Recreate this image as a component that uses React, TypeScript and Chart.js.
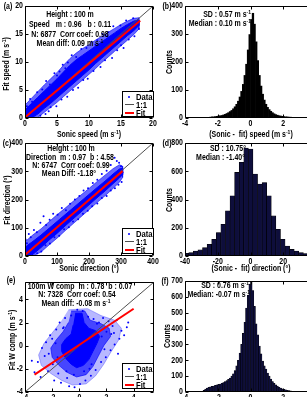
import React, { useEffect, useRef } from "react";
import { Chart, registerables } from "chart.js";

Chart.register(...registerables);

const FONT = "'Liberation Sans',Arial,sans-serif";
const SQUEEZE = 0.82; // horizontal compression of the lettering

// ---------- (a) horizontal wind speed, sonic vs fit ----------
const speedBandX = [0, 1, 2, 3, 4, 5, 6, 7, 8, 9, 10, 11, 12, 13, 14, 15, 16, 17, 17.8];
const speedCoreHi = [1.4, 2.6, 3.7, 4.8, 5.9, 7.0, 8.2, 9.4, 10.4, 11.2, 12.0, 12.8, 13.6, 14.4, 15.2, 16.0, 16.7, 17.3, 17.5];
const speedCoreLo = [0.0, 0.0, 0.7, 1.7, 2.6, 3.6, 4.6, 5.6, 6.6, 7.6, 8.6, 9.7, 10.7, 11.7, 12.7, 13.7, 14.7, 15.6, 16.5];
const speedHaloHi = [2.3, 3.5, 4.7, 5.9, 7.0, 8.1, 9.4, 10.6, 11.6, 12.4, 13.1, 13.9, 14.6, 15.3, 16.0, 16.7, 17.3, 17.8, 17.9];
const speedHaloLo = [0.0, 0.0, 0.1, 1.0, 1.9, 2.8, 3.8, 4.8, 5.8, 6.8, 7.8, 8.8, 9.9, 10.9, 11.9, 12.9, 13.9, 14.9, 15.9];
const speedOutX = [0.3, 0.8, 1.1, 1.9, 2.7, 3.3, 3.9, 4.6, 5.4, 5.9, 6.7, 7.3, 8.0, 8.8, 9.6, 10.4, 11.3, 12.1, 13.0, 13.8, 14.9, 15.8, 16.9, 17.5, 17.8, 17.1, 16.2, 15.4, 14.4, 13.6, 12.5, 11.8, 10.7, 9.8, 9.1, 8.3, 7.5, 6.6, 5.7, 4.9, 4.0, 3.2, 2.4, 1.6, 5.0, 6.3, 11.0, 12.9, 3.7, 15.0];
const speedOutY = [2.1, 3.4, 2.9, 4.6, 5.1, 6.6, 6.0, 8.0, 8.3, 9.5, 9.9, 11.2, 10.9, 12.3, 12.5, 13.6, 13.9, 15.0, 15.3, 16.4, 16.5, 17.4, 17.8, 17.1, 15.9, 14.6, 14.0, 12.5, 12.1, 10.7, 10.3, 9.1, 8.4, 7.0, 6.8, 5.4, 5.0, 3.8, 3.3, 2.1, 1.9, 0.7, 0.4, 0.05, 7.6, 8.9, 13.1, 14.6, 1.2, 13.0];
const speedFit = { m: 0.96, b: 0.11, from: 0, to: 18 };

// ---------- (b) speed difference histogram ----------
const speedDiffStart = -2.55;
const speedDiffWidth = 0.1;
const speedDiffCounts = [2, 3, 4, 4, 5, 6, 7, 8, 9, 11, 13, 16, 19, 23, 27, 33, 40, 49, 60, 75, 95, 120, 152, 192, 243, 298, 352, 374, 335, 272, 205, 152, 114, 85, 64, 49, 38, 30, 24, 19, 15, 12, 10, 8, 7, 6, 5, 4, 4, 3, 3, 2, 2, 1];

// ---------- (c) wind direction, sonic vs fit ----------
const dirBandX = [0, 10, 25, 50, 75, 100, 125, 150, 175, 200, 225, 250, 275, 295, 305];
const dirCoreHi = [30, 40, 52, 74, 98, 122, 146, 170, 194, 218, 242, 265, 290, 308, 311];
const dirCoreLo = [0, 0, 6, 30, 56, 80, 106, 131, 156, 181, 206, 230, 256, 276, 288];
const dirHaloHi = [50, 60, 75, 96, 121, 146, 169, 193, 216, 239, 263, 286, 309, 323, 318];
const dirHaloLo = [0, 0, 0, 14, 39, 63, 89, 114, 139, 164, 189, 213, 239, 261, 278];
const dirOutX = [2, 6, 12, 18, 28, 37, 48, 58, 66, 77, 88, 102, 115, 128, 141, 156, 170, 183, 197, 212, 226, 240, 255, 268, 280, 287, 294, 300, 305, 302, 292, 281, 268, 255, 240, 226, 210, 196, 181, 166, 150, 137, 122, 107, 92, 78, 64, 51, 38, 25, 45];
const dirOutY = [58, 45, 78, 66, 92, 84, 118, 141, 110, 128, 150, 146, 170, 162, 185, 200, 212, 232, 240, 258, 270, 290, 302, 322, 348, 336, 330, 318, 296, 262, 252, 240, 232, 212, 205, 186, 176, 160, 150, 130, 122, 102, 95, 72, 66, 44, 38, 16, 10, 0, 0];
const dirFit = { m: 0.97, b: 4.58, from: 0, to: 305 };

// ---------- (d) direction difference histogram ----------
const dirDiffStart = -39.1;
const dirDiffWidth = 2.8;
const dirDiffCounts = [19, 24, 35, 43, 59, 83, 118, 166, 225, 320, 426, 592, 663, 764, 757, 580, 509, 520, 426, 284, 189, 118, 71, 47, 35, 24, 18];

// ---------- (e) vertical wind component, sonic vs fit ----------
const wCoreX = [-0.3, 0.2, 0.35, 0.7, 1.2, 1.5, 1.3, 1.0, 0.7, 0.3, -0.2, -0.6, -1.0, -1.3, -1.3, -1.0, -0.6, -0.45];
const wCoreY = [2.8, 2.8, 2.0, 1.5, 1.3, 0.8, 0.2, -0.5, -1.2, -1.7, -1.9, -1.6, -1.1, -0.5, 0.1, 0.6, 1.0, 1.8];
const wMidX = [-0.6, 0.4, 0.8, 1.6, 2.2, 2.3, 1.8, 1.4, 1.0, 0.5, -0.2, -0.9, -1.5, -2.0, -2.1, -1.7, -1.2, -0.8];
const wMidY = [3.0, 3.0, 2.2, 1.9, 1.5, 0.8, 0.0, -0.9, -1.8, -2.5, -2.7, -2.3, -1.7, -1.0, -0.2, 0.5, 1.2, 2.0];
const wOuterX = [-0.8, 0.6, 1.6, 2.6, 3.1, 2.9, 2.3, 1.8, 1.2, 0.5, -0.5, -1.3, -2.1, -2.8, -3.0, -2.6, -2.0, -1.4];
const wOuterY = [3.1, 3.2, 2.6, 2.2, 1.5, 0.5, -0.6, -1.6, -2.6, -3.3, -3.4, -3.0, -2.4, -1.7, -0.8, 0.2, 1.1, 2.0];
const wOutX = [-3.3, -3.05, -2.85, -2.55, -2.45, -2.3, -2.15, -1.95, -1.85, -1.7, -1.55, -1.45, -1.35, -1.15, -1.05, -0.9, -0.75, -0.6, -0.35, -0.15, 0.05, 0.25, 0.45, 0.65, 0.85, 1.05, 1.2, 1.45, 1.6, 1.75, 1.95, 2.15, 2.3, 2.45, 2.6, 2.75, 2.95, 3.1, 3.3, 3.5, 3.6, -2.75, -2.25, -1.75, 1.85, 2.35, -0.95, 0.75, -3.5, 2.85, -2.0, -1.2, 0.9, 1.3, 2.0, -0.4, 0.35, 1.65, -1.6, 2.55];
const wOutY = [-2.3, -1.4, -2.7, -0.9, 0.3, -2.2, 0.9, -1.6, -3.0, 1.4, -2.4, 2.0, -3.2, 1.6, 2.4, -2.8, -3.5, 2.6, -3.6, 3.1, -3.3, 3.0, -3.0, 2.5, -2.6, 2.3, -2.1, 2.0, -1.4, 2.4, -1.0, 2.1, -0.4, 1.7, 0.1, 2.2, 0.6, 1.3, 0.9, 1.6, 2.0, -0.2, -0.7, 0.2, -0.3, 1.0, -2.2, -2.0, -1.3, -0.7, 0.6, 1.5, -1.6, 1.9, 1.2, -2.5, -2.2, 0.8, -1.0, 1.1];
const wFit = { m: 0.78, b: 0.07, from: -3.3, to: 4.0 };

// ---------- (f) vertical component difference histogram ----------
const wDiffStart = -2.95;
const wDiffWidth = 0.1;
const wDiffCounts = [5, 10, 18, 25, 30, 32, 35, 38, 42, 45, 48, 50, 55, 60, 65, 72, 80, 88, 100, 115, 135, 165, 200, 245, 300, 370, 440, 530, 610, 680, 700, 640, 540, 430, 360, 290, 240, 195, 165, 145, 120, 100, 82, 66, 54, 45, 37, 30, 25, 20, 17, 14, 11, 9, 7, 5, 4, 3, 2, 1];

// ---------- layout ----------
const AXW = 24;
const AXH = 16;
const PADT = 8;
const PADR = 12;
const BLUE = "#0000ff";
const NAVY = "#0e0e3c";

type Pt = { x: number; y: number };
type Rect = { l: number; t: number; r: number; b: number };

const zip = (xs: number[], ys: number[]): Pt[] => xs.map((x, i) => ({ x, y: ys[i] }));
const band = (xs: number[], hi: number[], lo: number[]): Pt[] => [...zip(xs, hi), ...zip(xs, lo).reverse()];
const fitLine = (f: { m: number; b: number; from: number; to: number }): Pt[] => [
  { x: f.from, y: f.m * f.from + f.b },
  { x: f.to, y: f.m * f.to + f.b },
];
const hist = (start: number, width: number, counts: number[]): Pt[] =>
  counts.map((c, i) => ({ x: start + i * width, y: c }));

// Box around the axes with inward tick marks and compressed tick labels
const framePlugin = {
  id: "frame",
  afterDatasetsDraw(chart: any) {
    const { ctx, chartArea: a } = chart;
    const xs = chart.scales.x;
    const ys = chart.scales.y;
    const L = Math.round(a.left) + 0.5;
    const R = Math.round(a.right) - 0.5;
    const T = Math.round(a.top) + 0.5;
    const B = Math.round(a.bottom) - 0.5;
    ctx.save();
    ctx.strokeStyle = "#000";
    ctx.lineWidth = 1;
    ctx.beginPath();
    ctx.rect(L, T, R - L, B - T);
    for (const t of xs.ticks) {
      const p = Math.round(xs.getPixelForValue(t.value)) + 0.5;
      ctx.moveTo(p, B);
      ctx.lineTo(p, B - 3);
      ctx.moveTo(p, T);
      ctx.lineTo(p, T + 3);
    }
    for (const t of ys.ticks) {
      const p = Math.round(ys.getPixelForValue(t.value)) + 0.5;
      ctx.moveTo(L, p);
      ctx.lineTo(L + 3, p);
      ctx.moveTo(R, p);
      ctx.lineTo(R - 3, p);
    }
    ctx.stroke();

    ctx.fillStyle = "#000";
    ctx.font = `bold 8.5px ${FONT}`;
    for (const t of xs.ticks) {
      const p = xs.getPixelForValue(t.value);
      ctx.save();
      ctx.translate(p, B + 2);
      ctx.scale(SQUEEZE, 1);
      ctx.textAlign = "center";
      ctx.textBaseline = "top";
      ctx.fillText(String(t.value), 0, 0);
      ctx.restore();
    }
    for (const t of ys.ticks) {
      const p = ys.getPixelForValue(t.value);
      ctx.save();
      ctx.translate(L - 2.5, p);
      ctx.scale(SQUEEZE, 1);
      ctx.textAlign = "right";
      ctx.textBaseline = "middle";
      ctx.fillText(String(t.value), 0, 0);
      ctx.restore();
    }
    ctx.restore();
  },
};

function axis(min: number, max: number, step: number, pos: "bottom" | "left") {
  return {
    type: "linear" as const,
    position: pos,
    min,
    max,
    offset: false,
    grid: { display: false, drawTicks: false },
    border: { display: false },
    ticks: { stepSize: step, includeBounds: false, autoSkip: false, display: false },
    afterFit: (s: any) => {
      if (pos === "bottom") s.height = AXH;
      else s.width = AXW;
    },
  };
}

const baseOptions = {
  animation: false as const,
  responsive: false,
  devicePixelRatio: 1,
  events: [] as any[],
  layout: { padding: { top: PADT, right: PADR, left: 0, bottom: 0 } },
  plugins: { legend: { display: false }, tooltip: { enabled: false } },
};

const area = (data: Pt[], color: string) => ({
  data,
  showLine: true,
  fill: "shape",
  backgroundColor: color,
  borderColor: color,
  borderWidth: 1,
  pointRadius: 0,
});

function scatterConfig(
  areas: { pts: Pt[]; color: string }[],
  out: Pt[],
  one: Pt[],
  fit: Pt[],
  xr: [number, number, number],
  yr: [number, number, number]
): any {
  return {
    type: "scatter",
    data: {
      datasets: [
        { data: fit, showLine: true, borderColor: "#ff0000", borderWidth: 2, pointRadius: 0 },
        { data: one, showLine: true, borderColor: "#505050", borderWidth: 1, pointRadius: 0 },
        { data: out, pointRadius: 1, backgroundColor: BLUE, borderWidth: 0 },
        ...areas.map((a) => area(a.pts, a.color)),
      ],
    },
    options: {
      ...baseOptions,
      scales: { x: axis(xr[0], xr[1], xr[2], "bottom"), y: axis(yr[0], yr[1], yr[2], "left") },
    },
    plugins: [framePlugin],
  };
}

function histConfig(pts: Pt[], fillColor: string, edge: number, xr: [number, number, number], yr: [number, number, number]): any {
  return {
    type: "bar",
    data: {
      datasets: [
        {
          data: pts,
          backgroundColor: fillColor,
          borderColor: "#000",
          borderWidth: edge,
          barPercentage: 1,
          categoryPercentage: 1,
        },
      ],
    },
    options: {
      ...baseOptions,
      scales: { x: axis(xr[0], xr[1], xr[2], "bottom"), y: axis(yr[0], yr[1], yr[2], "left") },
    },
    plugins: [framePlugin],
  };
}

function ChartPanel({ rect, build }: { rect: Rect; build: () => any }) {
  const ref = useRef<HTMLCanvasElement>(null);
  useEffect(() => {
    const chart = new Chart(ref.current as HTMLCanvasElement, build());
    return () => chart.destroy();
  }, []);
  const W = rect.r - rect.l + AXW + PADR;
  const H = rect.b - rect.t + PADT + AXH;
  return (
    <canvas
      ref={ref}
      width={W}
      height={H}
      style={{ position: "absolute", left: rect.l - AXW, top: rect.t - PADT, width: W, height: H }}
    />
  );
}

function Sup({ children }: { children: React.ReactNode }) {
  return <span style={{ fontSize: "0.72em", position: "relative", top: "-0.45em" }}>{children}</span>;
}

const MS = (
  <>
    m s<Sup>-1</Sup>
  </>
);

function T({
  x,
  y,
  a = "c",
  rot = false,
  size = 8.5,
  children,
}: {
  x: number;
  y: number;
  a?: "c" | "r";
  rot?: boolean;
  size?: number;
  children: React.ReactNode;
}) {
  const tx = a === "c" ? "-50%" : "-100%";
  return (
    <div
      style={{
        position: "absolute",
        left: x,
        top: y,
        transformOrigin: a === "r" ? "right center" : "center center",
        transform: `translate(${tx},-50%)${rot ? " rotate(-90deg)" : ""} scaleX(${SQUEEZE})`,
        whiteSpace: "pre",
        fontFamily: FONT,
        fontWeight: "bold",
        fontSize: size,
        lineHeight: 1,
        color: "#000",
      }}
    >
      {children}
    </div>
  );
}

function Legend({ left, top }: { left: number; top: number }) {
  const label = (y: number, text: string) => (
    <div
      style={{
        position: "absolute",
        left: 13,
        top: y,
        transformOrigin: "left center",
        transform: "translateY(-50%) scaleX(0.9)",
        fontFamily: FONT,
        fontWeight: "bold",
        fontSize: 8.5,
        lineHeight: 1,
      }}
    >
      {text}
    </div>
  );
  return (
    <div
      style={{
        position: "absolute",
        left,
        top,
        width: 32,
        height: 26,
        border: "1px solid #000",
        background: "#fff",
        boxSizing: "border-box",
      }}
    >
      <div style={{ position: "absolute", left: 5, top: 3.5, width: 2, height: 2, borderRadius: 1, background: BLUE }} />
      {label(4.5, "Data")}
      <div style={{ position: "absolute", left: 2, top: 12, width: 9, height: 1, background: "#505050" }} />
      {label(12.5, "1:1")}
      <div style={{ position: "absolute", left: 2, top: 19.5, width: 9, height: 2, background: "#ff0000" }} />
      {label(20.5, "Fit")}
    </div>
  );
}

const A: Rect = { l: 25, t: 6, r: 153, b: 118 };
const B: Rect = { l: 185, t: 6, r: 316, b: 118 };
const C: Rect = { l: 25, t: 143, r: 153, b: 256 };
const D: Rect = { l: 185, t: 143, r: 316, b: 256 };
const E: Rect = { l: 25, t: 282, r: 154, b: 392 };
const F: Rect = { l: 185, t: 281, r: 316, b: 392 };

export default function App() {
  return (
    <div
      style={{
        position: "absolute",
        left: 0,
        top: 0,
        width: 307,
        height: 397,
        overflow: "hidden",
        background: "#fff",
      }}
    >
      <ChartPanel
        rect={A}
        build={() =>
          scatterConfig(
            [
              { pts: band(speedBandX, speedCoreHi, speedCoreLo), color: BLUE },
              { pts: band(speedBandX, speedHaloHi, speedHaloLo), color: "rgba(0,0,255,0.6)" },
            ],
            zip(speedOutX, speedOutY),
            [{ x: 0, y: 0 }, { x: 20, y: 20 }],
            fitLine(speedFit),
            [0, 20, 5],
            [0, 20, 5]
          )
        }
      />
      <ChartPanel
        rect={B}
        build={() => histConfig(hist(speedDiffStart, speedDiffWidth, speedDiffCounts), "#000", 0, [-4, 4, 2], [0, 400, 100])}
      />
      <ChartPanel
        rect={C}
        build={() =>
          scatterConfig(
            [
              { pts: band(dirBandX, dirCoreHi, dirCoreLo), color: BLUE },
              { pts: band(dirBandX, dirHaloHi, dirHaloLo), color: "rgba(0,0,255,0.6)" },
            ],
            zip(dirOutX, dirOutY),
            [{ x: 0, y: 0 }, { x: 400, y: 400 }],
            fitLine(dirFit),
            [0, 400, 100],
            [0, 400, 100]
          )
        }
      />
      <ChartPanel
        rect={D}
        build={() => histConfig(hist(dirDiffStart, dirDiffWidth, dirDiffCounts), NAVY, 0.6, [-40, 40, 20], [0, 800, 200])}
      />
      <ChartPanel
        rect={E}
        build={() =>
          scatterConfig(
            [
              { pts: zip(wCoreX, wCoreY), color: BLUE },
              { pts: zip(wMidX, wMidY), color: "rgba(0,0,255,0.62)" },
              { pts: zip(wOuterX, wOuterY), color: "rgba(0,0,255,0.28)" },
            ],
            zip(wOutX, wOutY),
            [{ x: -4, y: -4 }, { x: 5.5, y: 5.5 }],
            fitLine(wFit),
            [-4, 5.5, 2],
            [-4, 5.5, 2]
          )
        }
      />
      <ChartPanel
        rect={F}
        build={() => histConfig(hist(wDiffStart, wDiffWidth, wDiffCounts), NAVY, 0.4, [-4, 4, 2], [0, 700, 100])}
      />

      {/* panel letters */}
      <T x={8} y={6}>(a)</T>
      <T x={167} y={6}>(b)</T>
      <T x={7} y={143}>(c)</T>
      <T x={167} y={143}>(d)</T>
      <T x={11} y={280}>(e)</T>
      <T x={165} y={281}>(f)</T>

      {/* (a) */}
      <T x={70} y={14}>Height : 100 m</T>
      <T x={70} y={24}>{"Speed   m : 0.96   b : 0.11"}</T>
      <T x={70} y={33.5}>{"N: 6877  Corr coef: 0.98"}</T>
      <T x={70} y={43}>Mean diff: 0.09 {MS}</T>
      <T x={6} y={64} rot>Fit speed ({MS})</T>
      <T x={89} y={134}>Sonic speed ({MS})</T>
      <Legend left={122} top={91} />

      {/* (b) */}
      <T x={251} y={14} a="r">SD : 0.57 {MS}</T>
      <T x={251} y={23} a="r">Median : 0.10 {MS}</T>
      <T x={169} y={62} rot>Counts</T>
      <T x={251} y={134}>{"(Sonic -  fit) speed ("}{MS})</T>

      {/* (c) */}
      <T x={71} y={148}>Height : 100 m</T>
      <T x={70} y={156.5}>{"Direction  m : 0.97  b : 4.58"}</T>
      <T x={71} y={164.5}>{"N: 6747  Corr coef: 0.99"}</T>
      <T x={69} y={173}>Mean Diff: -1.18°</T>
      <T x={7} y={200} rot>Fit direction (°)</T>
      <T x={89} y={268}>Sonic direction (°)</T>
      <Legend left={122} top={228} />

      {/* (d) */}
      <T x={246} y={148} a="r">SD : 10.75°</T>
      <T x={245} y={157} a="r">Median : -1.40°</T>
      <T x={169} y={200} rot>Counts</T>
      <T x={251} y={268}>{"(Sonic -  fit) direction (°)"}</T>

      {/* (e) */}
      <T x={80} y={285.5}>{"100m W comp  m : 0.78  b : 0.07"}</T>
      <T x={77} y={294}>{"N: 7328  Corr coef: 0.54"}</T>
      <T x={76} y={303}>Mean diff: -0.08 {MS}</T>
      <T x={12} y={340} rot>Fit W comp ({MS})</T>
      <Legend left={122} top={363} />

      {/* (f) */}
      <T x={249} y={285} a="r">SD : 0.76 {MS}</T>
      <T x={250} y={293.5} a="r">Median: -0.07 {MS}</T>
      <T x={167} y={336} rot>Counts</T>
    </div>
  );
}
